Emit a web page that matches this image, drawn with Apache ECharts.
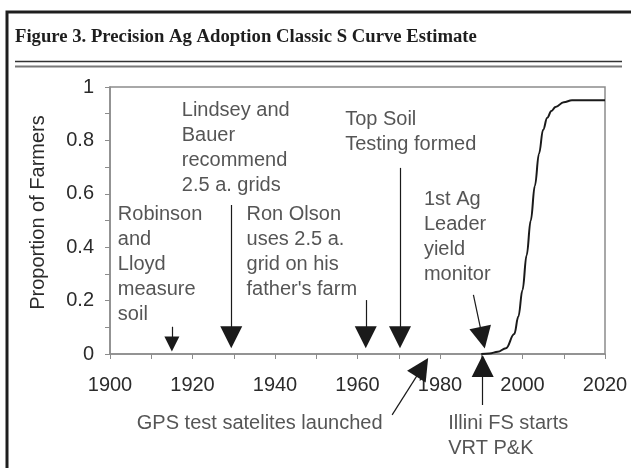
<!DOCTYPE html>
<html>
<head>
<meta charset="utf-8">
<script src="https://cdn.jsdelivr.net/npm/echarts@6/dist/echarts.min.js"></script>
<style>
html, body { margin: 0; padding: 0; background: #fff; }
#chart { width: 631px; height: 468px; }
</style>
</head>
<body>
<div id="chart"></div>
<script>
// S curve estimate (year -> proportion of farmers)
var curveYears  = [1990, 1992, 1994, 1996, 1998, 1999, 2000, 2001, 2002, 2003, 2004, 2005, 2006, 2007, 2008, 2010, 2012, 2020];
var curveValues = [0, 0.002, 0.008, 0.022, 0.075, 0.14, 0.24, 0.37, 0.50, 0.63, 0.75, 0.84, 0.885, 0.91, 0.925, 0.943, 0.95, 0.95];

var xTickLabels = [1900, 1920, 1940, 1960, 1980, 2000, 2020];
var yTickLabels = [0, 0.2, 0.4, 0.6, 0.8, 1];

// annotations: text and the top-left corner of each block, in data units
var noteTexts = [
	'Robinson\nand\nLloyd\nmeasure\nsoil',
	'Lindsey and\nBauer\nrecommend\n2.5 a. grids',
	'Ron Olson\nuses 2.5 a.\ngrid on his\nfather\'s farm',
	'Top Soil\nTesting formed',
	'1st Ag\nLeader\nyield\nmonitor',
	'GPS test satelites launched',
	'Illini FS starts\nVRT P&K'
];
var noteYears  = [1901.9, 1917.4, 1933.1, 1957.0, 1976.1, 1906.5, 1982.0];
var noteValues = [0.569, 0.958, 0.569, 0.926, 0.627, -0.212, -0.212];

// arrows: tail and head (head = middle of the arrowhead)
var arrowFrom = [[1915, 0.102], [1929.4, 0.558], [1962, 0.202], [1970.3, 0.697], [1988.1, 0.221], [1968.4, -0.228], [1990.35, -0.191]];
var arrowTo   = [[1915, 0.037], [1929.4, 0.0625], [1962, 0.0625], [1970.3, 0.0625], [1990.3, 0.061], [1975.7, -0.050], [1990.35, -0.045]];
var arrowHeadSize = [[13, 15], [13, 22], [13, 22], [13, 22], [13, 22], [13, 22], [13, 22]];

var FONT = '"Liberation Sans", Arial, sans-serif';
var TEXT_COLOR = '#2b2b2b';
var AXIS_COLOR = '#8c8c8c';

var notes = [];
for (var i = 0; i < noteTexts.length; i++) {
	notes.push([noteYears[i], noteValues[i]]);
}

var arrows = [];
for (var j = 0; j < arrowFrom.length; j++) {
	arrows.push({
		coords: [arrowFrom[j], arrowTo[j]],
		symbol: ['none', 'triangle'],
		symbolSize: arrowHeadSize[j]
	});
}

var curve = [];
for (var k = 0; k < curveYears.length; k++) {
	curve.push([curveYears[k], curveValues[k]]);
}

var chart = echarts.init(document.getElementById('chart'), null, {renderer: 'canvas'});

var option = {
	backgroundColor: '#fff',
	animation: false,
	title: {
		text: 'Figure 3. Precision Ag Adoption Classic S Curve Estimate',
		left: 15,
		top: 28,
		padding: 0,
		textStyle: {
			fontFamily: '"Liberation Serif", "Times New Roman", serif',
			fontWeight: 'bold',
			fontSize: 18.7,
			color: '#1e1e1e'
		}
	},
	graphic: [
		// outer frame of the figure box
		{type: 'rect', shape: {x: 7, y: 12, width: 640, height: 470}, style: {fill: 'none', stroke: '#1e1e1e', lineWidth: 3}, silent: true},
		// double rule under the title
		{type: 'line', shape: {x1: 15, y1: 61.5, x2: 622, y2: 61.5}, style: {stroke: '#333', lineWidth: 1.3}, silent: true},
		{type: 'line', shape: {x1: 15, y1: 66.5, x2: 622, y2: 66.5}, style: {stroke: '#777', lineWidth: 2}, silent: true}
	],
	grid: {
		left: 110,
		right: 26,
		top: 87,
		bottom: 114,
		show: true,
		borderColor: AXIS_COLOR,
		borderWidth: 1.5,
		backgroundColor: 'transparent'
	},
	xAxis: {
		type: 'value',
		min: 1900,
		max: 2020,
		interval: 10,
		splitLine: {show: false},
		axisLine: {lineStyle: {color: AXIS_COLOR, width: 1.5}},
		axisTick: {length: 5, lineStyle: {color: AXIS_COLOR}},
		axisLabel: {
			margin: 21,
			fontFamily: FONT,
			fontSize: 20,
			color: TEXT_COLOR,
			formatter: function(v){
				return xTickLabels.indexOf(v) >= 0 ? String(v) : '';
			}
		}
	},
	yAxis: {
		type: 'value',
		min: 0,
		max: 1,
		interval: 0.2,
		name: 'Proportion of Farmers',
		nameLocation: 'middle',
		nameGap: 62,
		nameTextStyle: {fontFamily: FONT, fontSize: 20, color: TEXT_COLOR, padding: [0, 0, 0, 16]},
		splitLine: {show: false},
		axisLine: {lineStyle: {color: AXIS_COLOR, width: 1.5}},
		axisTick: {length: 5, lineStyle: {color: AXIS_COLOR}},
		minorTick: {show: true, splitNumber: 2, length: 5, lineStyle: {color: AXIS_COLOR}},
		axisLabel: {
			margin: 16,
			fontFamily: FONT,
			fontSize: 20,
			color: TEXT_COLOR,
			formatter: function(v){
				var hit = yTickLabels.filter(function(t){ return Math.abs(t - v) < 1e-9; });
				return hit.length ? String(hit[0]) : '';
			}
		}
	},
	series: [
		{
			type: 'line',
			data: curve,
			smooth: 0.4,
			smoothMonotone: 'x',
			showSymbol: false,
			lineStyle: {color: '#1a1a1a', width: 2},
			z: 3
		},
		{
			type: 'lines',
			coordinateSystem: 'cartesian2d',
			clip: false,
			data: arrows,
			lineStyle: {color: '#1a1a1a', width: 1.2, opacity: 1},
			itemStyle: {color: '#111'},
			z: 4
		},
		{
			type: 'scatter',
			clip: false,
			symbolSize: 0,
			data: notes,
			silent: true,
			label: {
				show: true,
				position: [0, 0],
				align: 'left',
				verticalAlign: 'top',
				fontFamily: FONT,
				fontSize: 20,
				lineHeight: 25,
				color: TEXT_COLOR,
				formatter: function(p){
					return noteTexts[p.dataIndex];
				}
			},
			z: 5
		}
	]
};

chart.setOption(option);
</script>
</body>
</html>
